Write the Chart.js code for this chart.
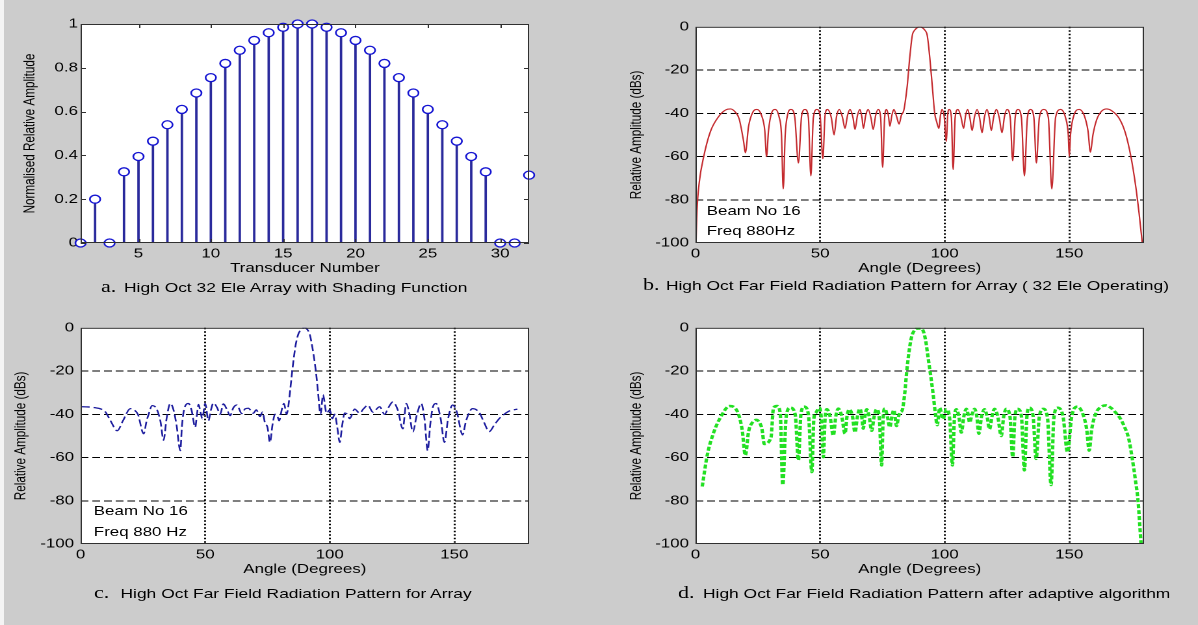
<!DOCTYPE html>
<html>
<head>
<meta charset="utf-8">
<title>High Oct array shading and beam patterns</title>
<script src="https://cdn.jsdelivr.net/npm/chart.js@4.4.0/dist/chart.umd.min.js"></script>
<style>
  html, body { margin: 0; padding: 0; }
  body { width: 1198px; height: 625px; overflow: hidden; position: relative; background: #cccccc; }
  #edge { position: absolute; left: 0; top: 0; width: 4px; height: 625px; background: #f4f4f4; z-index: 2; }
  /* the whole figure is laid out narrow and stretched sideways */
  #fig { position: absolute; left: 0; top: 0; width: 922px; height: 625px;
         transform: scaleX(1.3); transform-origin: 0 0;
         font-family: "Liberation Sans", Arial, Helvetica, sans-serif; color: #000; }
  .panel { position: absolute; width: 411px; height: 273px; }
  .note { position: absolute; font-size: 13px; line-height: 16px; white-space: nowrap; }
  .cap { position: absolute; white-space: nowrap; line-height: 20px; overflow: hidden; }
  .cap .lbl { font-family: "Liberation Serif", "Times New Roman", serif; font-size: 17px; }
  .cap .txt { font-size: 13.4px; }
</style>
</head>
<body>
<div id="edge"></div>
<div id="fig">
  <div class="panel" style="left:8.3px; top:14px"><canvas id="shadeChart" width="411" height="273"></canvas></div>
  <div class="panel" style="left:480.6px; top:14px"><canvas id="fullChart" width="411" height="273"></canvas></div>
  <div class="panel" style="left:8.3px; top:315px"><canvas id="arrayChart" width="411" height="273"></canvas></div>
  <div class="panel" style="left:480.6px; top:315px"><canvas id="adaptChart" width="411" height="273"></canvas></div>

  <div class="note" style="left:543.7px; top:203px">Beam No 16</div>
  <div class="note" style="left:543.7px; top:223px">Freq 880Hz</div>
  <div class="note" style="left:72.2px; top:503px">Beam No 16</div>
  <div class="note" style="left:72.2px; top:524px">Freq 880 Hz</div>

  <div class="cap" style="left:77.7px; top:277px"><span class="lbl">a.</span><span class="txt" style="margin-left:5.9px">High Oct 32 Ele Array with Shading Function</span></div>
  <div class="cap" style="left:494.6px; top:275px"><span class="lbl">b.</span><span class="txt" style="margin-left:4.9px">High Oct Far Field Radiation Pattern for Array ( 32 Ele Operating)</span></div>
  <div class="cap" style="left:72.3px; top:583px"><span class="lbl">c.</span><span class="txt" style="margin-left:8.6px">High Oct Far Field Radiation Pattern for Array</span></div>
  <div class="cap" style="left:521.5px; top:583px; width:378px"><span class="lbl">d.</span><span class="txt" style="margin-left:6.5px">High Oct Far Field Radiation Pattern after adaptive algorithm</span></div>
</div>

<script>
// shading weights per transducer
const elementNo = [1, 2, 3, 4, 5, 6, 7, 8, 9, 10, 11, 12, 13, 14, 15, 16,
  17, 18, 19, 20, 21, 22, 23, 24, 25, 26, 27, 28, 29, 30, 31, 32];
const shading = [0, 0.20, 0, 0.325, 0.395, 0.465, 0.54, 0.61, 0.685, 0.755, 0.82, 0.88, 0.925, 0.96, 0.985, 1.0,
  1.0, 0.985, 0.96, 0.925, 0.88, 0.82, 0.755, 0.685, 0.61, 0.54, 0.465, 0.395, 0.325, 0, 0, 0.31];

// b. all 32 elements operating (angle in degrees, level in dB)
const angleB = [
  0.2, 0.6, 1.5, 3.3, 6, 9.3, 12, 14, 16, 17.5,
  19.3, 20, 21.3, 23, 24.7, 26.5, 27.8, 28.5, 29.3, 30.5,
  32, 33.5, 34.5, 35.2, 36, 37, 38.3, 39.8, 41.3, 42.6,
  44, 45.3, 46.3, 47.3, 48.7, 50, 51.1, 52, 52.9, 54.5,
  55.6, 56.6, 57.7, 59, 60, 61, 62, 63.2, 64, 65,
  66, 66.8, 67.4, 68.3, 69.3, 70.4, 71.3, 72.3, 73.3, 74.3,
  75.1, 75.9, 76.7, 77.4, 78, 78.8, 79.6, 80.7, 81.7, 82.6,
  83.5, 84, 85, 86, 87, 88, 89, 90, 91, 92,
  93, 94, 95, 96, 96.8, 97.7, 98.3, 98.9, 99.8, 100.7,
  101.2, 101.8, 102.7, 103.4, 104.2, 105.3, 106.5, 107.6, 108.4, 109.2,
  110.1, 111, 112, 113, 114, 115, 116, 117, 117.9, 118.7,
  119.7, 120.7, 121.9, 123, 124, 125, 126.3, 127.3, 128.3, 129.4,
  130.8, 132, 133.2, 134.5, 135.8, 136.8, 138, 139.8, 141.6, 143,
  144.5, 146.5, 148.5, 149.6, 150, 150.5, 152, 154, 156, 157.5,
  158.5, 159.5, 161, 163, 165, 167, 170, 172.5, 174.7, 176.7,
  178, 179.3];
const levelB = [
  -100, -85, -72, -60, -48.4, -41.5, -38.5, -38, -39.5, -42.5,
  -53, -58.3, -46, -39.5, -38.2, -41, -48, -60, -48, -40,
  -38.2, -41.5, -50, -75, -50, -40.5, -38.2, -41.5, -63, -41,
  -38.2, -42, -69, -42, -38.2, -41, -61, -41, -38.2, -42,
  -50, -41.5, -38.2, -42, -47, -41, -38.2, -42, -47.5, -41,
  -38.2, -42, -47, -41, -38.2, -42, -47.5, -41, -38.2, -42,
  -65, -42, -38.2, -41, -46, -41, -38.2, -41.5, -45, -41,
  -39, -36, -27, -14, -4, -1.5, -0.4, 0, -0.4, -1.5,
  -4, -14, -27, -40, -44, -47, -41, -38.2, -41.5, -53,
  -41, -38.2, -42, -66, -42, -38.2, -41.5, -47, -41, -38.2,
  -42, -48, -41.5, -38.2, -42, -49, -41.5, -38.2, -42, -48,
  -41.5, -38.2, -42, -49, -41.5, -38.2, -42, -62, -42, -38.2,
  -42, -69, -42, -38.2, -42, -63, -42, -38.2, -42, -75,
  -42, -38.2, -42, -50, -60, -50, -40.5, -38.2, -41, -48,
  -58, -50, -43, -39, -38, -38.8, -42.3, -49, -59.8, -74,
  -86, -100];

// c. measured array pattern
const angleC = [
  0, 3, 6, 8, 10, 12, 14.7, 17, 20, 21.5,
  23, 25.3, 26.5, 27.3, 28.7, 30.5, 32, 33.3, 34.5, 36,
  37.3, 38.5, 40, 40.7, 41.5, 43.3, 44.5, 46, 46.7, 47.3,
  48.3, 48.8, 50, 51.3, 52.3, 53.3, 54.8, 56, 57.3, 58.8,
  60, 61.3, 62.7, 64.7, 66, 67.3, 69.3, 70.5, 72, 73,
  74, 75, 76, 77, 78, 79, 79.7, 80.7, 81.6, 82.7,
  83.4, 84, 85.3, 86.3, 87.3, 88.5, 90, 91, 92, 93,
  94, 94.8, 95.3, 96.3, 97.3, 98.7, 100, 101, 102, 103,
  104, 105, 106, 107, 108, 110, 112, 113.5, 115.3, 117.3,
  120, 122, 123.5, 125.3, 127.3, 129.3, 130.7, 132, 133.3, 135,
  136.7, 138, 139.3, 140.3, 141.3, 142.7, 144.5, 146, 147.5, 149.3,
  151, 153.3, 154.7, 157.3, 160, 162, 164, 166, 168, 170,
  172, 175.3];
const levelC = [
  -36.5, -36.6, -37, -37.5, -39, -43, -47.6, -43, -37.4, -38,
  -40, -49, -43, -40, -36, -37.5, -43, -52, -42, -35,
  -38, -45, -56.8, -45, -38, -35, -38, -46, -40, -35.5,
  -40, -42, -35, -43, -38, -34.8, -37, -40, -35.2, -38,
  -40.6, -37, -35.7, -39.7, -37.5, -37.2, -39.5, -38, -41, -39,
  -44, -46, -53, -45, -40, -41, -43, -38, -35, -40,
  -36, -30, -16.4, -8, -3.2, -0.8, 0, -0.8, -3.2, -9,
  -16.4, -24, -30, -40, -31, -39.5, -38, -42, -40, -46,
  -53, -45, -39.4, -40, -42, -37.6, -39.5, -37.5, -35.8, -39,
  -36.5, -40, -37, -34.3, -38, -46.7, -35, -40, -48.2, -40,
  -35, -42, -56.8, -45, -37, -35, -42, -53, -42, -35.7,
  -39, -49.5, -43, -37.4, -39.2, -44, -48, -45, -42, -40,
  -38.5, -37.6];

// d. pattern after the adaptive algorithm
const angleD = [
  2.7, 4.7, 7.3, 10, 13.7, 16.7, 18.7, 20, 21.3, 22.7,
  24.4, 26, 26.7, 27.6, 30.3, 31.3, 32.7, 34, 35, 36.4,
  38, 40, 41.3, 42.3, 43.6, 45.3, 46.7, 47.5, 48.3, 49.7,
  50.5, 51.3, 52, 52.7, 54, 55.3, 56.3, 57.3, 58.7, 60,
  60.8, 61.7, 63, 64, 65, 66, 66.7, 67.3, 68, 68.7,
  69.7, 70.7, 71.7, 72.7, 73.8, 74.7, 75.3, 76, 77, 78,
  78.8, 79.6, 80.7, 81.5, 82, 83, 84, 84.7, 85.7, 86.7,
  88, 89.3, 90.3, 91.3, 92.3, 93.3, 94.3, 95.3, 96.3, 97,
  98, 99.3, 100.7, 102, 103.1, 103.9, 104.7, 105.7, 106.7, 107.7,
  108.7, 109.4, 110, 111, 112, 112.9, 113.7, 114.8, 116, 117,
  118, 119, 120, 121.3, 122.7, 123.7, 124.7, 126.2, 127.3, 128.2,
  129.3, 130.8, 132, 133, 134, 135.5, 136.7, 138, 139.6, 141.3,
  142.7, 143.8, 145.3, 147.5, 149.3, 151, 153.3, 155.5, 157, 158,
  159, 160.7, 162.5, 164.7, 166.7, 168.7, 170.5, 172, 173.8, 175.3,
  176.5, 177.6, 178.8];
const levelD = [
  -73.4, -59, -48.4, -41.5, -36.2, -38.5, -47, -59, -48, -44,
  -42.6, -44.5, -47, -53.7, -50.7, -37, -36.2, -39.5, -72.7, -41,
  -37, -40, -61.3, -40, -36.5, -40, -66.7, -42, -39.3, -37,
  -42, -59.8, -42, -37.7, -41, -49.9, -41, -37.4, -41, -49,
  -41, -37.7, -41, -48.4, -41, -37.4, -41, -46.6, -41, -37.7,
  -41, -47.6, -41, -37.7, -42, -63.6, -42, -37.4, -41, -46,
  -41, -38, -45.4, -41, -39.3, -38, -30, -21, -11, -4.3,
  -1, -0.3, -0.3, -1.2, -5.5, -13.4, -21.5, -30, -40, -45,
  -37, -42.3, -37.7, -42, -63.6, -42, -37.7, -41, -48.4, -41,
  -37.5, -40, -43.8, -40, -37.5, -41, -49, -41, -37.7, -41,
  -46.9, -41, -37.5, -41, -50, -41, -37.5, -41, -59.8, -41,
  -37.5, -41, -65.9, -41, -37, -41, -60.6, -41, -37.5, -42,
  -72.7, -42, -37, -41, -57.5, -41, -36.5, -40, -47, -56.8,
  -47, -39.5, -36.8, -35.9, -37, -39.3, -42, -45.4, -51, -60.6,
  -70, -80, -100];

const elementTicks = [5, 10, 15, 20, 25, 30];
const shadingTicks = [0, 0.2, 0.4, 0.6, 0.8, 1];
const angleTicks = [0, 50, 100, 150];
const levelTicks = [-100, -80, -60, -40, -20, 0];

Chart.defaults.font.family = "'Liberation Sans', Arial, Helvetica, sans-serif";
Chart.defaults.font.size = 13;
Chart.defaults.color = '#000';
Chart.defaults.animation = false;

// white plot area, dark box and (optionally) inward tick marks
Chart.register({
  id: 'frame',
  defaults: { color: '#303030', ticks: false },
  beforeDraw(chart) {
    const { ctx, chartArea: a } = chart;
    ctx.save();
    ctx.fillStyle = '#fff';
    ctx.fillRect(a.left, a.top, a.width, a.height);
    ctx.restore();
  },
  afterDraw(chart, args, opts) {
    const { ctx, chartArea: a, scales } = chart;
    ctx.save();
    ctx.strokeStyle = opts.color;
    ctx.lineWidth = 1;
    ctx.setLineDash([]);
    ctx.strokeRect(a.left + 0.5, a.top + 0.5, a.width - 1, a.height - 1);
    if (opts.ticks) {
      ctx.beginPath();
      scales.x.ticks.forEach(t => {
        const px = Math.round(scales.x.getPixelForValue(t.value)) + 0.5;
        ctx.moveTo(px, a.bottom); ctx.lineTo(px, a.bottom - 4);
        ctx.moveTo(px, a.top); ctx.lineTo(px, a.top + 4);
      });
      scales.y.ticks.forEach(t => {
        const py = Math.round(scales.y.getPixelForValue(t.value)) + 0.5;
        ctx.moveTo(a.left, py); ctx.lineTo(a.left + 4, py);
        ctx.moveTo(a.right, py); ctx.lineTo(a.right - 4, py);
      });
      ctx.stroke();
    }
    ctx.restore();
  }
});

const zip = (xs, ys) => xs.map((x, i) => ({ x, y: ys[i] }));

// grid lines only inside the box, never on its edges
const innerGrid = (lo, hi) => c =>
  (c.tick && c.tick.value !== lo && c.tick.value !== hi) ? '#000' : 'rgba(0,0,0,0)';

function xAxis(min, max, ticks, title, grid) {
  return {
    type: 'linear', min, max, offset: false,
    afterBuildTicks: s => { s.ticks = ticks.map(v => ({ value: v })); },
    afterFit: s => { s.height = 44; },
    ticks: { padding: 3, maxRotation: 0, autoSkip: false, callback: v => String(v) },
    grid: grid
      ? { color: innerGrid(min, max), lineWidth: 1.5, drawTicks: false, offset: false }
      : { display: false, drawTicks: false, offset: false },
    border: { display: false, dash: [1.5, 2] },
    title: { display: true, text: title, font: { size: 13 }, padding: { top: 0, bottom: 11 } }
  };
}

function yAxis(min, max, ticks, title, titlePad, tickPad, grid) {
  return {
    type: 'linear', min, max,
    afterBuildTicks: s => { s.ticks = ticks.map(v => ({ value: v })); },
    afterFit: s => { s.width = 54; },
    ticks: { padding: tickPad, autoSkip: false, callback: v => String(v) },
    grid: grid
      ? { color: innerGrid(min, max), lineWidth: 1, drawTicks: false }
      : { display: false, drawTicks: false },
    border: { display: false, dash: [6, 3] },
    title: { display: true, text: title, font: { size: 11.7 }, padding: { top: titlePad, bottom: 0 } }
  };
}

const basePlugins = { legend: { display: false }, tooltip: { enabled: false } };
const baseLayout = { padding: { top: 10, right: 12, left: 0, bottom: 0 } };

// a. shading function as a stem plot
new Chart(document.getElementById('shadeChart'), {
  type: 'bar',
  data: {
    datasets: [
      {
        type: 'scatter',
        data: zip(elementNo, shading),
        pointStyle: 'circle',
        pointRadius: 4,
        pointBorderWidth: 1.3,
        pointBorderColor: '#1414d2',
        pointBackgroundColor: '#fff',
        clip: false,
        order: 0
      },
      {
        type: 'bar',
        data: zip(elementNo, shading),
        backgroundColor: '#2a2a9c',
        barThickness: 1.2,
        order: 1
      }
    ]
  },
  options: {
    responsive: false,
    devicePixelRatio: 2,
    layout: baseLayout,
    plugins: { ...basePlugins, frame: { ticks: true } },
    scales: {
      x: xAxis(1, 32, elementTicks, 'Transducer Number', false),
      y: yAxis(0, 1, shadingTicks, 'Normalised Relative Amplitude', 8.5, 2, false)
    }
  }
});

function patternChart(id, angles, levels, line, titlePad) {
  return new Chart(document.getElementById(id), {
    type: 'line',
    data: {
      datasets: [{
        data: zip(angles, levels),
        borderColor: line.color,
        borderWidth: line.width,
        borderDash: line.dash || [],
        pointRadius: 0,
        cubicInterpolationMode: 'monotone',
        fill: false
      }]
    },
    options: {
      responsive: false,
      devicePixelRatio: 2,
      layout: baseLayout,
      plugins: basePlugins,
      scales: {
        x: xAxis(0, 180, angleTicks, 'Angle (Degrees)', true),
        y: yAxis(-100, 0, levelTicks, 'Relative Amplitude (dBs)', titlePad, 5, true)
      }
    }
  });
}

patternChart('fullChart', angleB, levelB, { color: '#c42a2e', width: 1.1 }, 1.8);
patternChart('arrayChart', angleC, levelC, { color: '#1c1c9e', width: 1.3, dash: [7, 3] }, 1.5);
patternChart('adaptChart', angleD, levelD, { color: '#22e022', width: 2.6, dash: [4, 2] }, 1.8);
</script>
</body>
</html>
